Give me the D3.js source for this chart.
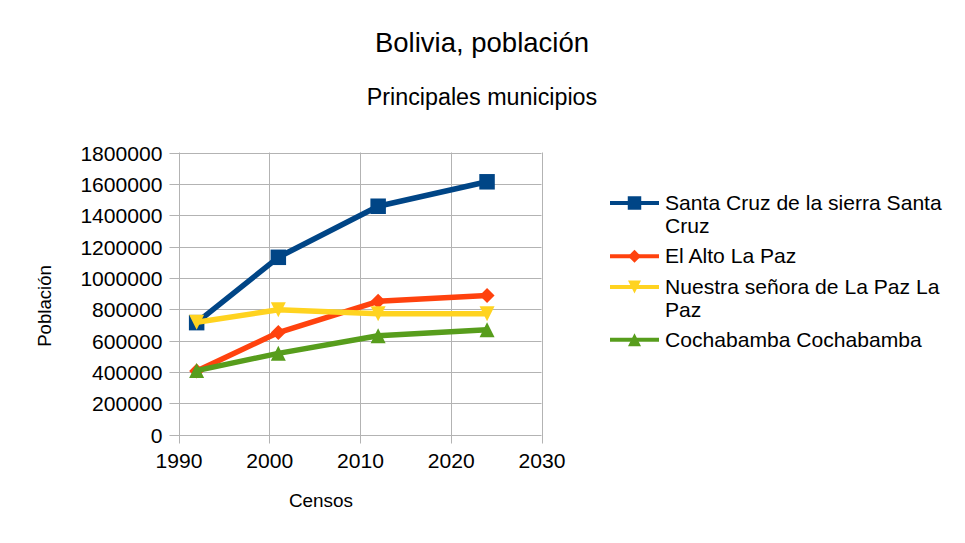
<!DOCTYPE html>
<html>
<head>
<meta charset="utf-8">
<script src="https://cdn.jsdelivr.net/npm/d3@7"></script>
<style>
    body { margin: 0; background: #fff; }
    svg { display: block; font-family: "Liberation Sans", Arial, sans-serif; }
</style>
</head>
<body>
<script>
"use strict";

const WIDTH = 965
const HEIGHT = 543

// censos
const years = [1992, 2001, 2012, 2024]
const santa_cruz = [714000, 1131000, 1457000, 1613000]
const el_alto = [405000, 651000, 850000, 887000]
const la_paz = [716000, 796000, 771000, 770000]
const cochabamba = [408000, 518000, 630000, 668000]
const series_names = [
    ["Santa Cruz de la sierra Santa", "Cruz"],
    ["El Alto La Paz"],
    ["Nuestra señora de La Paz La", "Paz"],
    ["Cochabamba Cochabamba"],
]
const x_ticks = [1990, 2000, 2010, 2020, 2030]
const y_ticks = [0, 200000, 400000, 600000, 800000, 1000000, 1200000, 1400000, 1600000, 1800000]

// marker shapes, centred on their bounding box like the office chart does
const shapes = {
    square: s => `M${-s / 2},${-s / 2}h${s}v${s}h${-s}Z`,
    diamond: s => `M0,${-s / 2}L${s / 2},0L0,${s / 2}L${-s / 2},0Z`,
    down: s => `M${-s / 2},${-s / 2}L${s / 2},${-s / 2}L0,${s / 2}Z`,
    up: s => `M0,${-s / 2}L${s / 2},${s / 2}L${-s / 2},${s / 2}Z`,
}

const series = [
    { values: santa_cruz, color: "#004586", shape: "square", size: 15.5 },
    { values: el_alto, color: "#ff420e", shape: "diamond", size: 15 },
    { values: la_paz, color: "#ffd320", shape: "down", size: 15 },
    { values: cochabamba, color: "#579d1c", shape: "up", size: 15 },
]

const plot = { left: 178.5, right: 541.5, top: 152.5, bottom: 434.5 }

const svg = d3.select("body").append("svg")
    .attr("width", WIDTH)
    .attr("height", HEIGHT)

const x = d3.scaleLinear().domain([1990, 2030]).range([plot.left, plot.right])
const y = d3.scaleLinear().domain([0, 1800000]).range([plot.bottom, plot.top])

// titles
svg.append("text")
    .attr("x", 482).attr("y", 52)
    .attr("text-anchor", "middle")
    .attr("font-size", 27.5)
    .text("Bolivia, población")
svg.append("text")
    .attr("x", 482).attr("y", 105)
    .attr("text-anchor", "middle")
    .attr("font-size", 23.3)
    .text("Principales municipios")

// grid
const grid = svg.append("g").attr("stroke", "#b3b3b3").attr("stroke-width", 1)
y_ticks.forEach(t => {
    grid.append("line")
        .attr("x1", plot.left - 9).attr("x2", plot.right)
        .attr("y1", Math.round(y(t)) + 0.5).attr("y2", Math.round(y(t)) + 0.5)
})
x_ticks.forEach(t => {
    grid.append("line")
        .attr("x1", Math.round(x(t)) + 0.5).attr("x2", Math.round(x(t)) + 0.5)
        .attr("y1", plot.top).attr("y2", plot.bottom + 9)
})

// axes (labels only, lines come from the grid)
const yAxis = svg.append("g")
    .attr("transform", `translate(${plot.left - 16},0)`)
    .call(d3.axisLeft(y).tickValues(y_ticks).tickFormat(d3.format("d")).tickSize(0).tickPadding(0))
yAxis.select(".domain").remove()
yAxis.selectAll("text")
    .attr("font-size", 21.1)
    .attr("font-family", "Liberation Sans, Arial, sans-serif")
    .attr("fill", "#000")
    .attr("dy", "0.36em")

const xAxis = svg.append("g")
    .attr("transform", `translate(0,${plot.bottom + 19})`)
    .call(d3.axisBottom(x).tickValues(x_ticks).tickFormat(d3.format("d")).tickSize(0).tickPadding(0))
xAxis.select(".domain").remove()
xAxis.selectAll("text")
    .attr("font-size", 21.1)
    .attr("font-family", "Liberation Sans, Arial, sans-serif")
    .attr("fill", "#000")
    .attr("dy", "0.71em")

svg.append("text")
    .attr("x", 321).attr("y", 507)
    .attr("text-anchor", "middle")
    .attr("font-size", 18.9)
    .text("Censos")
svg.append("text")
    .attr("transform", "translate(51,306) rotate(-90)")
    .attr("text-anchor", "middle")
    .attr("font-size", 18.6)
    .text("Población")

// lines + markers
const line = d3.line()
    .x((d, i) => x(years[i]))
    .y(d => y(d))

series.forEach(s => {
    svg.append("path")
        .datum(s.values)
        .attr("fill", "none")
        .attr("stroke", s.color)
        .attr("stroke-width", 5.5)
        .attr("stroke-linejoin", "round")
        .attr("d", line)
    svg.append("g").selectAll("path")
        .data(s.values)
        .join("path")
        .attr("transform", (d, i) => `translate(${x(years[i])},${y(d)})`)
        .attr("d", shapes[s.shape](s.size))
        .attr("fill", s.color)
})

// legend
const legend_rows = [210, 263.3, 294, 346.7]
series.forEach((s, i) => {
    const g = svg.append("g").attr("transform", `translate(0,${legend_rows[i]})`)
    g.append("line")
        .attr("x1", 610).attr("x2", 659)
        .attr("y1", -7).attr("y2", -7)
        .attr("stroke", s.color)
        .attr("stroke-width", 4)
    g.append("path")
        .attr("transform", `translate(634.5,-7)`)
        .attr("d", shapes[s.shape](s.size - 2))
        .attr("fill", s.color)
    const t = g.append("text")
        .attr("x", 665)
        .attr("font-size", 21.1)
    series_names[i].forEach((part, j) => {
        t.append("tspan")
            .attr("x", 665)
            .attr("y", j * 23.3)
            .text(part)
    })
})
</script>
</body>
</html>
